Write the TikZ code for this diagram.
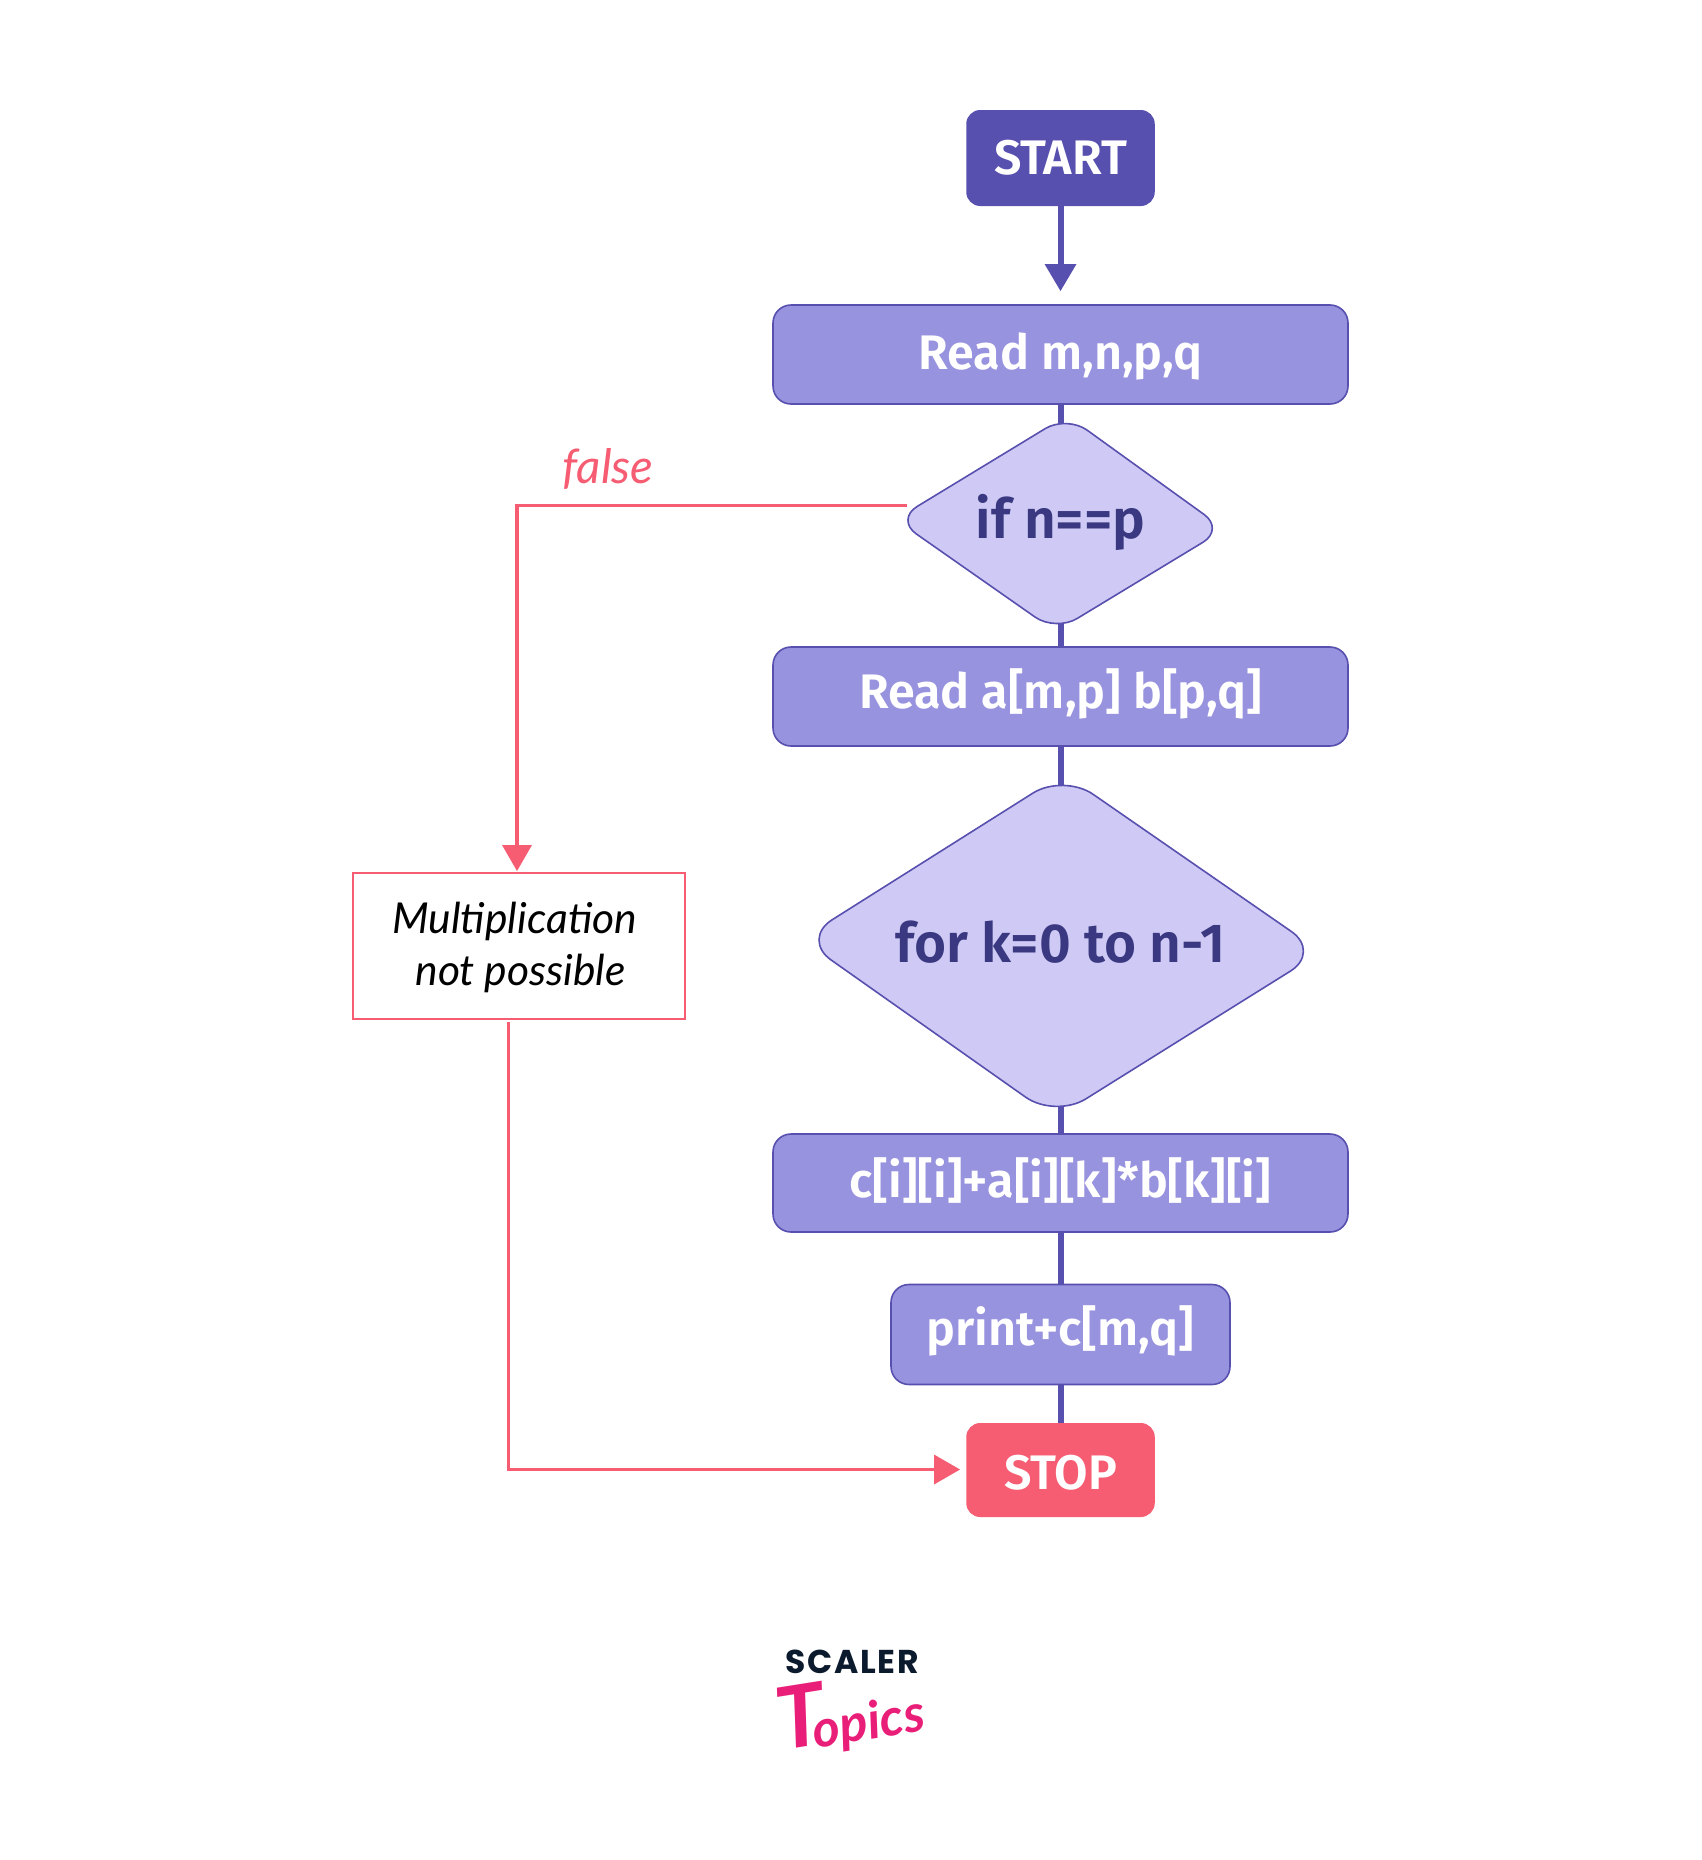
\documentclass[tikz,border=0pt]{standalone}
\usepackage{fontspec}
\setmainfont{Fira Sans}[BoldFont={Fira Sans SemiBold}]
\newfontfamily\latofont{Lato}
\newfontfamily\logofont{Poppins}[LetterSpace=5]
\newcommand{\liftby}[2]{\raisebox{#1}[\height][\depth]{#2}}
\definecolor{deep}{HTML}{5850AF}
\definecolor{mid}{HTML}{9893DE}
\definecolor{pale}{HTML}{CFCAF5}
\definecolor{ink}{HTML}{3A3880}
\definecolor{rose}{HTML}{F65C72}
\definecolor{navy}{HTML}{0C1A2E}
\definecolor{pinklogo}{HTML}{E91E78}
\tikzset{
  x=1pt,y=-1pt,
  flowbox/.style={draw=deep,line width=1.6pt,fill=mid,rounded corners=18pt,text=white,inner sep=0,font=\fontsize{48.5}{52}\selectfont\bfseries},
  termbox/.style={inner sep=0,rounded corners=14pt,text=white,font=\fontsize{48.5}{52}\selectfont\bfseries},
  dshape/.style={draw=deep,line width=1.6pt,fill=pale},
  dtext/.style={text=ink,font=\fontsize{55}{60}\selectfont\bfseries,inner sep=0},
  conn/.style={draw=deep,line width=6pt},
  rline/.style={draw=rose,line width=3.3pt},
  phead/.style={fill=deep},
  rhead/.style={fill=rose},
}
\begin{document}
\begin{tikzpicture}
\useasboundingbox (0,0) rectangle (1701,1860);
\fill[white] (0,0) rectangle (1701,1860);
% nodes
\node[termbox,fill=deep,minimum width=188.5pt,minimum height=96pt,anchor=center] (start) at (1060.5,158) {START};
\node[flowbox,minimum width=575pt,minimum height=99pt] (read) at (1060.5,354.5) {\liftby{-2.4pt}{Read m,n,p,q}};
\node[flowbox,minimum width=575pt,minimum height=99pt] (reada) at (1060.5,696.5) {\liftby{2.4pt}{Read a[m,p] b[p,q]}};
\node[flowbox,minimum width=575pt,minimum height=98pt] (calc) at (1060.5,1183) {\liftby{2.4pt}{c[i][i]+a[i][k]*b[k][i]}};
\node[flowbox,minimum width=339pt,minimum height=100pt] (print) at (1060.5,1334.5) {\liftby{3.6pt}{print+c[m,q]}};
\node[termbox,fill=rose,minimum width=188.5pt,minimum height=94pt] (stop) at (1060.5,1470) {\liftby{-2.4pt}{STOP}};
% skew diamonds
\coordinate (d1t) at (1066.8,415.5); \coordinate (d1r) at (1224.5,529.2);
\coordinate (d1b) at (1055.7,631.5); \coordinate (d1l) at (895.7,519.5);
\coordinate (d2t) at (1063.5,773.8); \coordinate (d2r) at (1321,952);
\coordinate (d2b) at (1055.2,1118); \coordinate (d2l) at (801.5,939.1);
\coordinate (d1in) at (1060.5,425); \coordinate (d1out) at (1060.5,620);
\coordinate (d2in) at (1060.5,790); \coordinate (d2out) at (1060.5,1100);
% connectors beneath the shapes
\draw[conn] (read.south) -- (d1in);
\draw[conn] (d1out) -- (reada.north);
\draw[conn] (reada.south) -- (d2in);
\draw[conn] (d2out) -- (calc.north);
\draw[conn] (calc.south) -- (print.north);
\draw[conn] (print.south) -- (stop.north);
\coordinate (tipA) at (1060.5,291);
\coordinate (armA) at (1060.5,270);
\draw[conn] (start.south) -- (armA);
\fill[phead] (1044.5,264) -- (1076.5,264) -- (tipA) -- cycle;
\draw[dshape,rounded corners=25pt] (d1t) -- (d1r) -- (d1b) -- (d1l) -- cycle;
\draw[dshape,rounded corners=36pt] (d2t) -- (d2r) -- (d2b) -- (d2l) -- cycle;
\node[dtext] (d1) at (1060.5,522.5) {if n==p};
\node[dtext] (d2) at (1060.5,942) {for k=0 to n-1};
% failure branch
\node[draw=rose,line width=2pt,fill=white,minimum width=332pt,minimum height=145.5pt,inner sep=0] (mult) at (519,946) {};
\node[font=\fontsize{42.6}{52}\selectfont\latofont\itshape,align=center,text=black,inner sep=0] (multt) at (514.6,947) {Multiplication\\ \hspace*{12pt}not possible};
\node[font=\fontsize{47.5}{50}\selectfont\latofont\itshape,text=rose,inner sep=0] (fl) at (608,469) {false};
\coordinate (e1) at (907,505.8);
\coordinate (k1) at (517,505.8);
\coordinate (armB) at (517,850);
\coordinate (tipB) at (517,871);
\draw[rline] (e1) -- (k1) -- (armB);
\fill[rhead] (502,845) -- (532,845) -- (tipB) -- cycle;
\coordinate (s2) at (508.5,1022);
\coordinate (k2) at (508.5,1469.5);
\coordinate (armC) at (938,1469.5);
\coordinate (tipC) at (960,1469.5);
\draw[rline] (s2) -- (k2) -- (armC);
\fill[rhead] (934,1454.5) -- (934,1484.5) -- (tipC) -- cycle;
% logo
\node[font=\fontsize{33}{36}\selectfont\logofont\bfseries,text=navy,inner sep=0] (scaler) at (852,1661.5) {SCALER};
\node[rotate=9,text=pinklogo,inner sep=0,font=\latofont\bfseries\itshape] (topics) at (850,1714) {\raisebox{3pt}{\fontsize{86}{86}\selectfont T}\kern-14pt\fontsize{52}{52}\selectfont opics};
\end{tikzpicture}
\end{document}
